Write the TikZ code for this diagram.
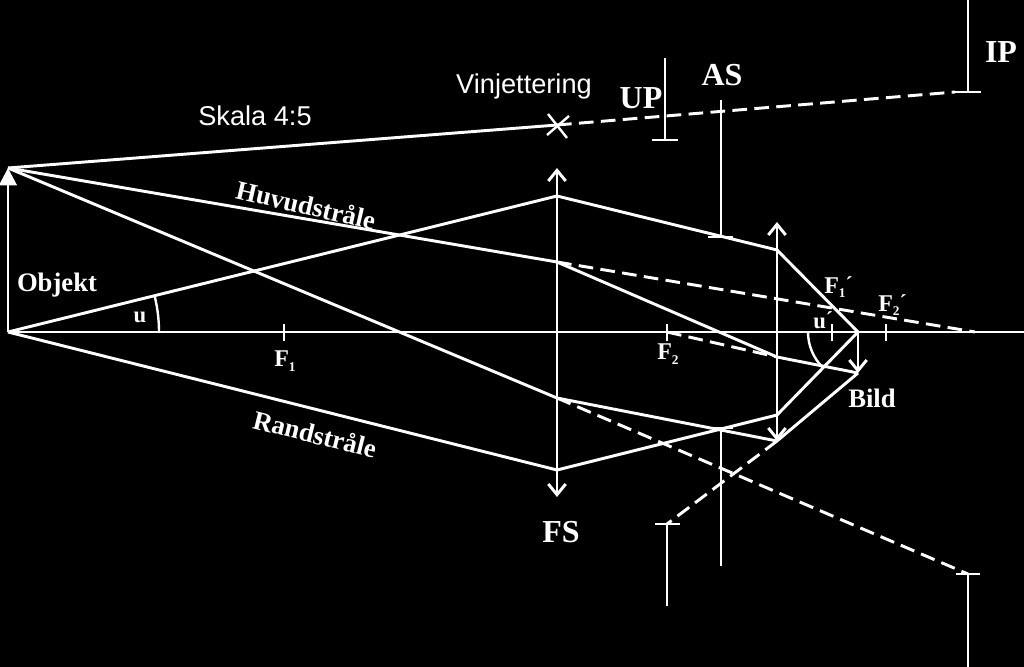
\documentclass[tikz,border=0pt]{standalone}
\usepackage{fontspec}
\setmainfont{Liberation Serif}
\newfontfamily\sansf{Liberation Sans}
\usetikzlibrary{arrows.meta}
\newcommand{\subn}[1]{\raisebox{-3.5pt}{\fontsize{10}{10}\selectfont #1}}
\newcommand{\primemark}{\raisebox{1.5pt}{\fontsize{16}{16}\selectfont\bfseries ´}}
\tikzset{
  ray/.style={draw=white,line width=2.2pt,line join=round},
  thinray/.style={draw=white,line width=1.8pt},
  dashray/.style={draw=white,line width=2.2pt,dash pattern=on 11pt off 5.5pt},
  lensline/.style={draw=white,line width=2.2pt,{Straight Barb[length=8pt,width=13pt,line width=2.2pt]}-{Straight Barb[length=8pt,width=13pt,line width=2.2pt]}},
  lab/.style={text=white,font=\bfseries\fontsize{20}{20}\selectfont,inner sep=0pt},
  angl/.style={text=white,font=\bfseries\fontsize{17}{17}\selectfont,inner sep=0pt},
  big/.style={text=white,font=\bfseries\fontsize{24}{24}\selectfont,inner sep=0pt},
  small/.style={text=white,font=\bfseries\fontsize{18}{18}\selectfont,inner sep=0pt},
  sanslab/.style={text=white,font=\sansf\fontsize{20.4}{20.4}\selectfont,inner sep=0pt},
}
\begin{document}
\begin{tikzpicture}[x=0.75pt,y=-0.75pt]
\fill[black] (0,0) rectangle (1024,667);
\useasboundingbox (0,0) rectangle (1024,667);
% points
\coordinate (axL) at (8,332);
\coordinate (axR) at (1024,332);
\coordinate (objT) at (8,168);
\coordinate (vig) at (557,125);
\coordinate (chief) at (557,262);
\coordinate (low) at (557,398);
\coordinate (margT) at (557,196);
\coordinate (margB) at (557,470);
\coordinate (L1T) at (557,168);
\coordinate (L1B) at (557,497);
\coordinate (L2T) at (777,222);
\coordinate (L2B) at (777,441);
\coordinate (m2T) at (777,250);
\coordinate (m2B) at (777,415);
\coordinate (c2) at (777,357);
\coordinate (imgA) at (858,332);
\coordinate (imgB) at (858,373);
\coordinate (fz) at (975,332);
% stops
\coordinate (upT) at (665,58);  \coordinate (upB) at (665,140);
\coordinate (upL) at (652,140); \coordinate (upR) at (678,140);
\coordinate (asT) at (721,100); \coordinate (asB) at (721,237);
\coordinate (asL) at (708,237); \coordinate (asR) at (733,237);
\coordinate (as2T) at (721,428); \coordinate (as2B) at (721,566);
\coordinate (as2L) at (708,428); \coordinate (as2R) at (733,428);
\coordinate (ipT) at (968,0);   \coordinate (ipB) at (968,92);
\coordinate (ipL) at (955,92);  \coordinate (ipR) at (981,92);
\coordinate (up2T) at (667,524); \coordinate (up2B) at (667,606);
\coordinate (up2L) at (655,524); \coordinate (up2R) at (680,524);
\coordinate (ip2T) at (968,574); \coordinate (ip2B) at (968,667);
\coordinate (ip2L) at (956,574); \coordinate (ip2R) at (980,574);
% axis, object
\draw[ray] (axL) -- (axR);
\draw[ray,-{Triangle[length=13pt,width=13pt]}] (axL) -- (objT);
% lenses
\draw[lensline] (L1B) -- (L1T);
\draw[lensline] (L2B) -- (L2T);
% rays
\draw[ray] (objT) -- (vig);
\draw[ray] (objT) -- (chief) -- (c2) -- (imgB);
\draw[ray] (objT) -- (low) -- (L2B) -- (imgB);
\draw[ray] (axL) -- (margT) -- (m2T) -- (imgA) -- (m2B) -- (margB) -- (axL);
\draw[ray,-{Straight Barb[length=8pt,width=13pt,line width=2.2pt]}] (imgA) -- (imgB);
% dashed
\draw[dashray] (vig) -- (ipL);
\draw[dashray] (chief) -- (fz);
\draw[dashray] (low) -- (ip2T);
\draw[dashray] (L2B) -- (up2T);
\coordinate (f2) at (667,332);
\draw[dashray] (f2) -- (c2);
% stops draw
\draw[ray] (upT) -- (upB); \draw[ray] (upL) -- (upR);
\draw[ray] (asT) -- (asB); \draw[ray] (asL) -- (asR);
\draw[ray] (as2T) -- (as2B); \draw[ray] (as2L) -- (as2R);
\draw[ray] (ipT) -- (ipB); \draw[ray] (ipL) -- (ipR);
\draw[ray] (up2T) -- (up2B); \draw[ray] (up2L) -- (up2R);
\draw[ray] (ip2T) -- (ip2B); \draw[ray] (ip2L) -- (ip2R);
% vignetting cross
\coordinate (xa) at (547,135); \coordinate (xb) at (569,116);
\coordinate (xc) at (548,114); \coordinate (xd) at (567,138);
\draw[thinray] (xa) -- (xb);
\draw[thinray] (xc) -- (xd);
% ticks
\coordinate (t1a) at (284,324); \coordinate (t1b) at (284,341);
\coordinate (t2a) at (667,324); \coordinate (t2b) at (667,341);
\coordinate (t3a) at (832,324); \coordinate (t3b) at (832,341);
\coordinate (t4a) at (886,324); \coordinate (t4b) at (886,341);
\draw[thinray] (t1a) -- (t1b);
\draw[thinray] (t2a) -- (t2b);
\draw[thinray] (t3a) -- (t3b);
\draw[thinray] (t4a) -- (t4b);
% angle arcs
\draw[thinray] (159,332) arc[start angle=0,end angle=-13.9,radius=151];
\draw[thinray] (808,332) arc[start angle=180,end angle=135,radius=50];
% labels
\node[sanslab] (skala) at (255,116) {Skala 4:5};
\node[sanslab] (vinj) at (524,86) {Vinjettering};
\node[big] (up) at (641,98) {UP};
\node[big] (as) at (722,75) {AS};
\node[big] (ip) at (1001,52) {IP};
\node[big] (fs) at (561,532) {FS};
\node[lab,rotate=-13] (huv) at (306,205) {Huvudstråle};
\node[lab,rotate=-14] (rand) at (315,434) {Randstråle};
\node[lab] (obj) at (57,285) {Objekt};
\node[angl] (uu) at (140,317) {u};
\node[angl,anchor=west] (uprime) at (813,320) {u\primemark};
\node[lab] (bild) at (872,398) {Bild};
\node[small,anchor=west] (f1) at (274,361) {F\subn{1}};
\node[small,anchor=west] (f2l) at (657,354) {F\subn{2}};
\node[small,anchor=west] (f1p) at (824,287) {F\subn{1}\primemark};
\node[small,anchor=west] (f2p) at (878,305) {F\subn{2}\primemark};
\end{tikzpicture}
\end{document}
